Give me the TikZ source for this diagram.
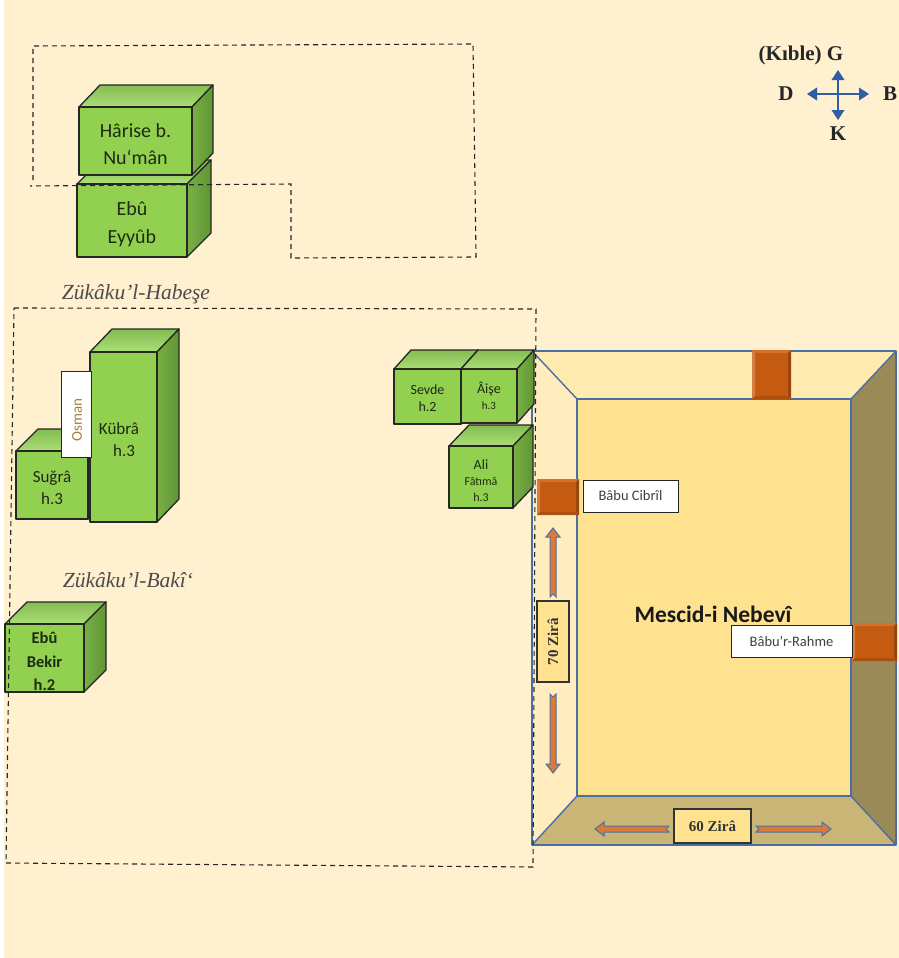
\documentclass[tikz,border=0pt]{standalone}
\usepackage{fontspec}
\setmainfont{Carlito}
\newfontfamily\serifx{Liberation Serif}
\definecolor{bgc}{HTML}{FFF0CF}
\definecolor{frontc}{HTML}{92D050}
\definecolor{topa}{HTML}{84BC52}
\definecolor{topb}{HTML}{ABDE76}
\definecolor{sidea}{HTML}{78B044}
\definecolor{sideb}{HTML}{609535}
\definecolor{floorc}{HTML}{FFE290}
\definecolor{topw}{HTML}{FFEBB0}
\definecolor{leftw}{HTML}{FFEDC0}
\definecolor{rightw}{HTML}{9A8A58}
\definecolor{botw}{HTML}{C9B677}
\definecolor{doorc}{HTML}{C55A11}
\definecolor{doorl}{HTML}{D67F45}
\definecolor{doort}{HTML}{D0702C}
\definecolor{doord}{HTML}{97460D}
\definecolor{doorb}{HTML}{AD500F}
\definecolor{wallb}{HTML}{4A6FA5}
\definecolor{arrowo}{HTML}{DD7A35}
\definecolor{compassb}{HTML}{2F5DA8}
\definecolor{txtc}{HTML}{1E2A12}
\definecolor{osmanc}{HTML}{9C8540}
\tikzset{
  x=1pt,y=-1pt,
  dashline/.style={draw=black!85,line width=1.1pt,dash pattern=on 5pt off 4pt},
  cubeedge/.style={draw=black!85,line width=1.3pt,line join=round},
  cubelabel/.style={align=center,text=txtc,inner sep=0pt},
  wall/.style={draw=wallb,line width=1.4pt,line join=round},
  whitebox/.style={draw=black!85,fill=white,line width=1pt,inner sep=0pt,font=\fontsize{14.5}{16}\selectfont,text=black!75},
  zirabox/.style={draw=black!80,fill=floorc,line width=1.3pt,inner sep=0pt,font=\serifx\bfseries\fontsize{15}{16}\selectfont,text=black!80},
  blockarrow/.style={draw=wallb,fill=arrowo,line width=1pt,line join=miter},
  street/.style={font=\serifx\itshape\fontsize{21.5}{24}\selectfont,text=black!70,inner sep=0pt},
  compassarrow/.style={draw=compassb,line width=2pt},
  compasstxt/.style={font=\serifx\bfseries\fontsize{21}{23}\selectfont,text=black!85,inner sep=0pt}
}
% #1 name, #2 x1, #3 y1, #4 x2, #5 y2, #6 dx, #7 dy, #8 font, #9 label
\newcommand{\cubebox}[9]{%
  \shadedraw[cubeedge,top color=topa,bottom color=topb] (#2,#3) -- ({#2+#6},{#3-#7}) -- ({#4+#6},{#3-#7}) -- (#4,#3) -- cycle;
  \shadedraw[cubeedge,left color=sidea,right color=sideb] (#4,#3) -- ({#4+#6},{#3-#7}) -- ({#4+#6},{#5-#7}) -- (#4,#5) -- cycle;
  \filldraw[cubeedge,fill=frontc] (#2,#3) rectangle (#4,#5);
  \node[cubelabel,font=#8] (#1) at ({(#2+#4)/2},{(#3+#5)/2}) {#9};%
}
% #1 name, #2 x1, #3 y1, #4 x2, #5 y2
\newcommand{\doorblock}[5]{%
  \node[inner sep=0pt,outer sep=0pt,fill=doorc,minimum width={#4-#2},minimum height={#5-#3}] (#1) at ({(#2+#4)/2},{(#3+#5)/2}) {};
  \fill[doorl] (#2,#3) -- ({#2+3},{#3+3}) -- ({#2+3},{#5-3}) -- (#2,#5) -- cycle;
  \fill[doort] (#2,#3) -- (#4,#3) -- ({#4-3},{#3+3}) -- ({#2+3},{#3+3}) -- cycle;
  \fill[doord] (#4,#3) -- (#4,#5) -- ({#4-3},{#5-3}) -- ({#4-3},{#3+3}) -- cycle;
  \fill[doorb] (#2,#5) -- (#4,#5) -- ({#4-3},{#5-3}) -- ({#2+3},{#5-3}) -- cycle;%
}
\begin{document}
\begin{tikzpicture}
\useasboundingbox (0,0) rectangle (899,958);
\fill[white] (0,0) rectangle (899,958);
\fill[bgc] (4,0) rectangle (899,958);

% first dashed plot
\cubebox{eyyub}{77}{184}{187}{257}{24}{24}{\fontsize{20}{28}\selectfont}{\rule{0pt}{21pt}Ebû\\Eyyûb}
\cubebox{harise}{79}{107}{192}{175}{21}{22}{\fontsize{20}{27}\selectfont}{\rule{0pt}{20pt}Hârise b.\\Nu‘mân}
\draw[dashline] (33,180) -- (33,46) -- (473,44) -- (476,257) -- (291,258) -- (291,184) -- (30,186);

% second dashed plot
\cubebox{sugra}{16}{451}{88}{519}{22}{22}{\fontsize{17}{22}\selectfont}{\rule{0pt}{17pt}Suğrâ\\h.3}
\cubebox{kubra}{90}{352}{157}{522}{22}{23}{\fontsize{17}{22}\selectfont}{}
\node[cubelabel,font=\fontsize{17}{22}\selectfont] (kubralbl) at (119,440) {Kübrâ\\\hspace*{10pt}h.3};
\node[draw=black!85,fill=white,line width=1pt,minimum width=30pt,minimum height=86pt,inner sep=0pt] (osmanbox) at (76.5,414) {};
\node[rotate=90,text=osmanc,inner sep=0pt,font=\fontsize{15}{16}\selectfont] (osman) at (77,420) {Osman};
\cubebox{bekir}{5}{624}{84}{692}{22}{22}{\bfseries\fontsize{16.5}{23.5}\selectfont}{\rule{0pt}{19pt}Ebû\\Bekir\\h.2}
\cubebox{sevde}{394}{369}{461}{424}{17}{19}{\fontsize{14}{17}\selectfont}{\rule{0pt}{13pt}Sevde\\h.2}

% mosque
\fill[topw] (532,351) -- (896,351) -- (851,399) -- (577,399) -- cycle;
\fill[leftw] (532,351) -- (577,399) -- (577,796) -- (532,845) -- cycle;
\fill[rightw] (896,351) -- (851,399) -- (851,796) -- (896,845) -- cycle;
\fill[botw] (532,845) -- (577,796) -- (851,796) -- (896,845) -- cycle;
\fill[floorc] (577,399) rectangle (851,796);
\draw[wall] (532,351) rectangle (896,845);
\draw[wall] (577,399) rectangle (851,796);
\draw[wall] (532,351) -- (577,399);
\draw[wall] (896,351) -- (851,399);
\draw[wall] (532,845) -- (577,796);
\draw[wall] (896,845) -- (851,796);

\cubebox{aise}{461}{369}{517}{423}{17}{19}{\fontsize{14}{16}\selectfont}{Âişe\\\fontsize{11}{16}\selectfont h.3}
\cubebox{ali}{449}{446}{513}{508}{20}{21}{\fontsize{14}{16}\selectfont}{\rule{0pt}{17pt}Ali\\\fontsize{12}{16}\selectfont Fâtımâ\\\fontsize{12}{16}\selectfont h.3}

\draw[dashline] (14,308) -- (536,309) -- (533,867) -- (6,863) -- cycle;

\doorblock{door1}{752}{350}{791}{399}
\doorblock{door2}{537}{479}{579}{515}
\doorblock{door3}{852}{623}{897}{661}
\node[whitebox,minimum width=95pt,minimum height=32pt] (cibril) at (630.5,496) {Bâbu Cibrîl};
\node[whitebox,minimum width=121pt,minimum height=32pt] (rahme) at (791.5,641) {Bâbu’r-Rahme};
\node[inner sep=0pt,font=\bfseries\fontsize{23.5}{26}\selectfont,text=black!90] (mescid) at (713,614) {Mescid-i Nebevî};

\node[zirabox,minimum width=32pt,minimum height=81pt] (z70box) at (553,641.5) {};
\node[rotate=90,inner sep=0pt,font=\serifx\bfseries\fontsize{15}{16}\selectfont,text=black!80] (z70) at (553,641.5) {70 Zirâ};
\node[zirabox,minimum width=77pt,minimum height=34pt] (z60) at (712.5,826) {60 Zirâ};

% block arrows
\draw[blockarrow] (550,597) -- (553,594) -- (556,597) -- (556,537) -- (560,537) -- (553,528) -- (546,537) -- (550,537) -- cycle;
\draw[blockarrow] (550,694) -- (553,697) -- (556,694) -- (556,764) -- (560,764) -- (553,773) -- (546,764) -- (550,764) -- cycle;
\draw[blockarrow] (669,826) -- (666,829) -- (669,832) -- (604,832) -- (604,836) -- (595,829) -- (604,822) -- (604,826) -- cycle;
\draw[blockarrow] (756,826) -- (759,829) -- (756,832) -- (822,832) -- (822,836) -- (831,829) -- (822,822) -- (822,826) -- cycle;

% compass
\node[inner sep=0pt] (cc) at (838,94) {};
\coordinate (cw) at (810,94);
\coordinate (ce) at (866,94);
\coordinate (cn) at (838,73);
\coordinate (cs) at (838,117);
\foreach \e in {cw,ce,cn,cs}{
  \draw[compassarrow] (cc.center) -- (\e);
}
\fill[compassb] (807,94) -- (817,87.5) -- (817,100.5) -- cycle;
\fill[compassb] (869,94) -- (859,87.5) -- (859,100.5) -- cycle;
\fill[compassb] (838,70) -- (831.5,80) -- (844.5,80) -- cycle;
\fill[compassb] (838,120) -- (831.5,110) -- (844.5,110) -- cycle;
\node[compasstxt] (kible) at (801,55) {(Kıble) G};
\node[compasstxt] (cd) at (786,94) {D};
\node[compasstxt] (cb) at (890,94) {B};
\node[compasstxt] (ck) at (838,134) {K};

\node[street] (habese) at (136,294) {Zükâku’l-Habeşe};
\node[street] (baki) at (128,580) {Zükâku’l-Bakî‘};
\end{tikzpicture}
\end{document}
